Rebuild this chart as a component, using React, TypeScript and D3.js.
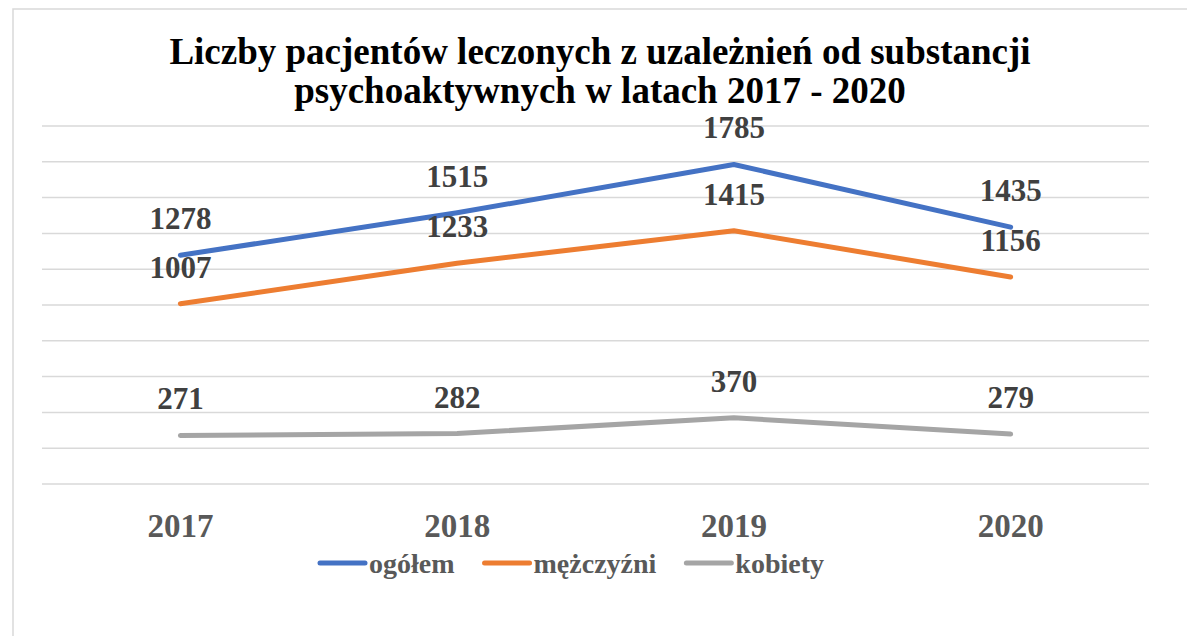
import React, { useEffect, useRef } from "react";
import * as d3 from "d3";

// chart data
const years = ["2017", "2018", "2019", "2020"];
const ogolem = [1278, 1515, 1785, 1435];
const mezczyzni = [1007, 1233, 1415, 1156];
const kobiety = [271, 282, 370, 279];
const seriesNames = ["ogółem", "mężczyźni", "kobiety"];
const seriesColors = ["#4472C4", "#ED7D31", "#A5A5A5"];
const titleLines = [
  "Liczby pacjentów leczonych z uzależnień od substancji",
  "psychoaktywnych w latach 2017 - 2020",
];

const App: React.FC = () => {
  const ref = useRef<SVGSVGElement>(null);

  useEffect(() => {
    const width = 1187,
      height = 636;
    const font = "'Liberation Serif', 'Times New Roman', serif";
    const svg = d3.select(ref.current);
    svg.selectAll("*").remove();

    // chart frame
    svg
      .append("rect")
      .attr("x", 13)
      .attr("y", 9)
      .attr("width", width)
      .attr("height", height)
      .attr("fill", "white")
      .attr("stroke", "#d9d9d9")
      .attr("stroke-width", 1.5);

    // Title
    svg
      .append("text")
      .attr("text-anchor", "middle")
      .style("font-family", font)
      .style("font-weight", "bold")
      .style("font-size", "37px")
      .attr("fill", "#000")
      .selectAll("tspan")
      .data(titleLines)
      .enter()
      .append("tspan")
      .attr("x", 600)
      .attr("y", (_, i) => 64 + i * 39)
      .text((d) => d);

    // Scales
    const x = d3.scaleBand().domain(years).range([42, 1149]);
    const y = d3.scaleLinear().domain([0, 2000]).range([484, 126]);

    // Gridlines
    svg
      .selectAll(".grid")
      .data(y.ticks(10))
      .enter()
      .append("line")
      .attr("x1", 42)
      .attr("x2", 1149)
      .attr("y1", (d) => y(d))
      .attr("y2", (d) => y(d))
      .attr("stroke", "#d9d9d9")
      .attr("stroke-width", 1.5);

    // Category labels
    svg
      .selectAll(".xlabel")
      .data(years)
      .enter()
      .append("text")
      .attr("x", (d) => x(d)! + x.bandwidth() / 2)
      .attr("y", 537)
      .attr("text-anchor", "middle")
      .style("font-family", font)
      .style("font-weight", "bold")
      .style("font-size", "33px")
      .attr("fill", "#595959")
      .text((d) => d);

    const allSeries = [ogolem, mezczyzni, kobiety];
    const line = d3
      .line<number>()
      .x((_, i) => x(years[i])! + x.bandwidth() / 2)
      .y((d) => y(d));

    allSeries.forEach((vals, si) => {
      svg
        .append("path")
        .attr("d", line(vals)!)
        .attr("fill", "none")
        .attr("stroke", seriesColors[si])
        .attr("stroke-width", 5)
        .attr("stroke-linecap", "round")
        .attr("stroke-linejoin", "round");
    });

    // Value labels above points
    allSeries.forEach((vals) => {
      svg
        .selectAll(null)
        .data(vals)
        .enter()
        .append("text")
        .attr("x", (_, i) => x(years[i])! + x.bandwidth() / 2)
        .attr("y", (d) => y(d) - 26)
        .attr("text-anchor", "middle")
        .style("font-family", font)
        .style("font-weight", "bold")
        .style("font-size", "31px")
        .attr("fill", "#404040")
        .text((d) => d);
    });

    // Legend
    let lx = 318;
    const ly = 563;
    seriesNames.forEach((name, i) => {
      svg
        .append("line")
        .attr("x1", lx + 2)
        .attr("x2", lx + 47)
        .attr("y1", ly)
        .attr("y2", ly)
        .attr("stroke", seriesColors[i])
        .attr("stroke-width", 5)
        .attr("stroke-linecap", "round");
      const t = svg
        .append("text")
        .attr("x", lx + 51)
        .attr("y", ly + 10)
        .style("font-family", font)
        .style("font-weight", "bold")
        .style("font-size", "28px")
        .attr("fill", "#595959")
        .text(name);
      const w = (t.node() as SVGTextElement).getComputedTextLength();
      lx += 51 + w + 28;
    });
  }, []);

  return (
    <svg
      ref={ref}
      width={1187}
      height={636}
      style={{ position: "absolute", left: 0, top: 0, display: "block" }}
    />
  );
};

export default App;
